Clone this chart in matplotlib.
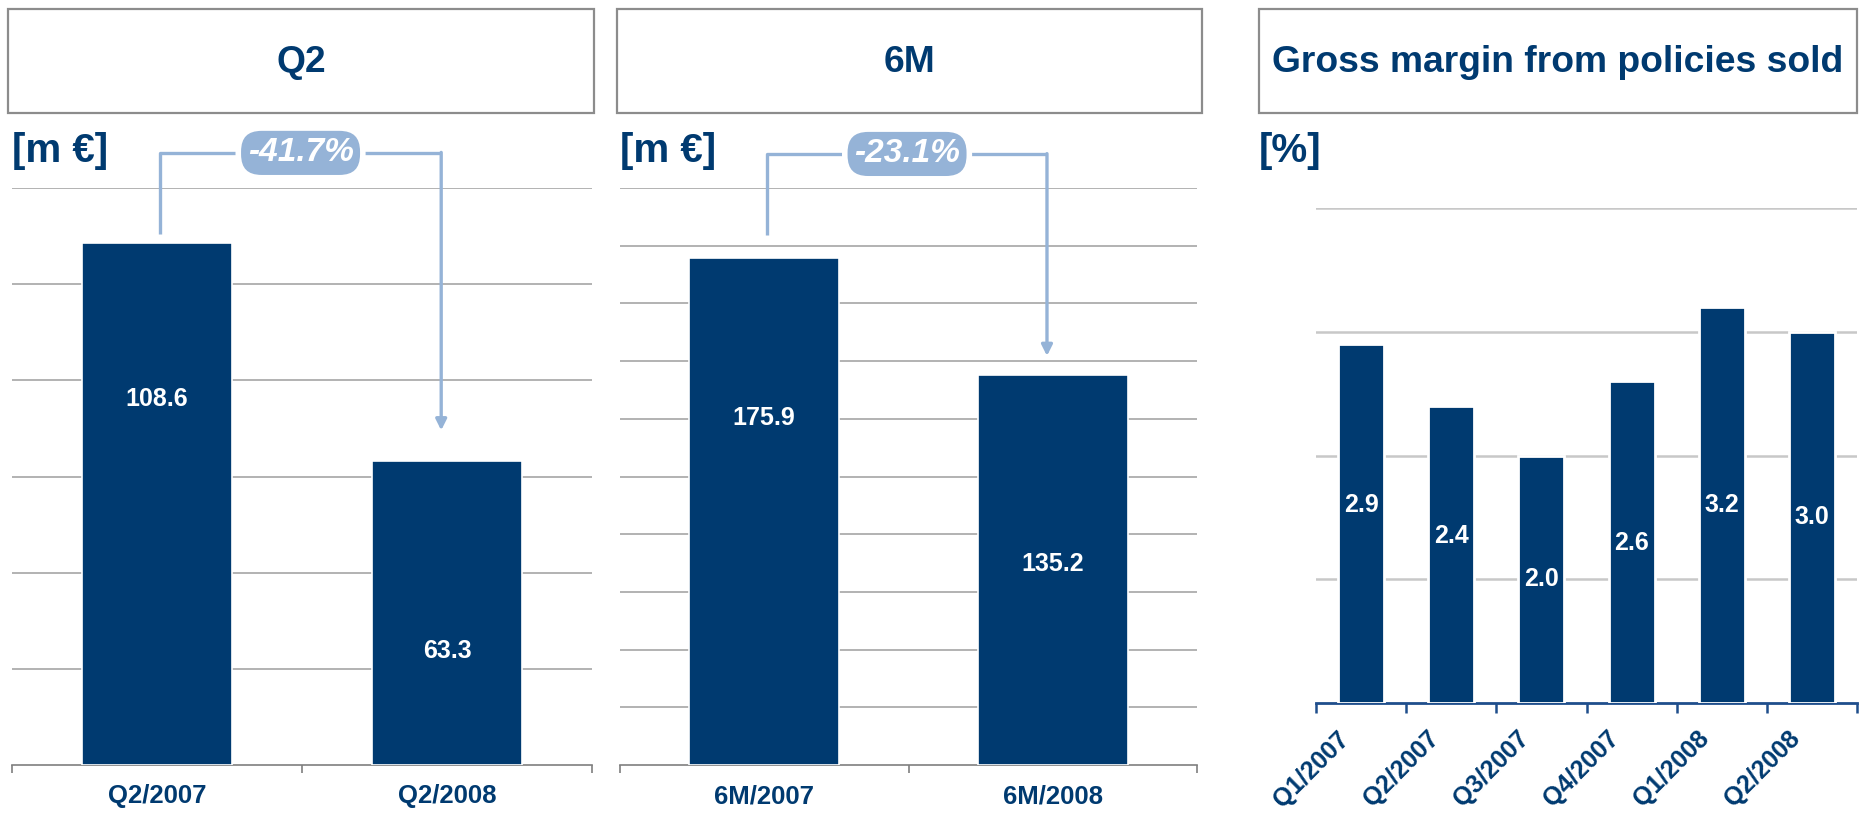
import numpy as np
import matplotlib.pyplot as plt
from matplotlib.patches import Rectangle

plt.rcParams['font.family'] = ['Liberation Sans', 'DejaVu Sans']

NAVY = '#003A70'
LIGHT = '#95B3D7'
GRID = '#A6A6A6'

# Q2 commission income
q2_cats = ['Q2/2007', 'Q2/2008']
q2_vals = [108.6, 63.3]
q2_change = '-41.7%'

# first half year
h1_cats = ['6M/2007', '6M/2008']
h1_vals = [175.9, 135.2]
h1_change = '-23.1%'

# gross margin per quarter
gm_cats = ['Q1/2007', 'Q2/2007', 'Q3/2007', 'Q4/2007', 'Q1/2008', 'Q2/2008']
gm_vals = [2.9, 2.4, 2.0, 2.6, 3.2, 3.0]

W, H = 1863, 815
fig = plt.figure(figsize=(W / 100, H / 100), dpi=100)


def px_axes(x0, y0, x1, y1):
    return fig.add_axes([x0 / W, 1 - y1 / H, (x1 - x0) / W, (y1 - y0) / H])


def title_box(x0, x1, text):
    fig.patches.append(Rectangle((x0 / W, 1 - 113 / H), (x1 - x0) / W, 104 / H,
                                 transform=fig.transFigure, fill=False,
                                 edgecolor='#8C8C8C', linewidth=1.6))
    fig.text((x0 + x1) / 2 / W, 1 - 62 / H, text, ha='center', va='center',
             fontsize=26.8, fontweight='bold', color=NAVY)


def unit_label(x, text):
    fig.text(x / W, 1 - 151 / H, text, ha='left', va='center',
             fontsize=29, fontweight='bold', color=NAVY)


def two_bar_panel(rect, cats, vals, ymax, step, text_y, change, top_y, start_y, tip_y):
    ax = px_axes(*rect)
    x = np.arange(len(cats))
    ax.bar(x, vals, width=0.52, color=NAVY, edgecolor='white', linewidth=1.2, zorder=3)
    ax.set_xlim(-0.5, len(cats) - 0.5)
    ax.set_ylim(0, ymax)
    ax.set_yticks(np.arange(step, ymax + step / 2, step))
    ax.yaxis.grid(True, color=GRID, linewidth=1.2)
    ax.set_axisbelow(True)
    for s in ['top', 'left', 'right']:
        ax.spines[s].set_visible(False)
    ax.spines['bottom'].set_color('#7F7F7F')
    ax.spines['bottom'].set_linewidth(1.2)
    ax.tick_params(axis='y', length=0, labelleft=False)
    ax.set_xticks(np.arange(-0.5, len(cats), 1.0))
    ax.set_xticklabels([])
    ax.tick_params(axis='x', length=6, width=1.2, color='#7F7F7F')
    for i, c in enumerate(cats):
        ax.annotate(c, xy=(i, 0), xytext=(0, -27.4), textcoords='offset points',
                    ha='center', va='baseline', fontsize=18.5, fontweight='bold', color=NAVY)
        ax.text(i, text_y[i], f'{vals[i]:.1f}', ha='center', va='center',
                fontsize=18, fontweight='bold', color='white', zorder=4)
    # change bracket from first bar to second bar
    x0, x1 = 0.01, 0.98
    ax.plot([x0, x0, x1], [start_y, top_y, top_y], color=LIGHT, lw=2.4,
            clip_on=False, zorder=4, solid_capstyle='butt')
    ax.annotate('', xy=(x1, tip_y), xytext=(x1, top_y + 0.1),
                arrowprops=dict(arrowstyle='-|>', color=LIGHT, lw=2.4, mutation_scale=16,
                                shrinkA=0, shrinkB=0),
                annotation_clip=False, zorder=4)
    ax.text((x0 + x1) / 2, top_y, change, ha='center', va='center', fontsize=24,
            fontweight='bold', style='italic', color='white', zorder=6, clip_on=False,
            bbox=dict(boxstyle='round,pad=0.28,rounding_size=0.7', fc=LIGHT,
                      ec='white', lw=4))
    return ax


title_box(8, 594, 'Q2')
title_box(617, 1202, '6M')
title_box(1259, 1857, 'Gross margin from policies sold')
unit_label(12, '[m €]')
unit_label(620, '[m €]')
unit_label(1259, '[%]')

two_bar_panel((12, 188, 592, 765), q2_cats, q2_vals, 120, 20, [76.2, 23.8],
              q2_change, 127.3, 110.4, 69.6)
two_bar_panel((620, 188, 1197, 765), h1_cats, h1_vals, 200, 20, [120.3, 69.7],
              h1_change, 211.8, 183.7, 141.8)

# gross margin panel
ax = px_axes(1316, 208, 1857, 703)
x = np.arange(len(gm_cats))
ax.bar(x, gm_vals, width=0.51, color=NAVY, edgecolor='white', linewidth=2, zorder=3)
ax.set_xlim(-0.5, len(gm_cats) - 0.5)
ax.set_ylim(0, 4)
ax.set_yticks([1, 2, 3, 4])
ax.yaxis.grid(True, color='#C8C8C8', linewidth=1.8)
ax.set_axisbelow(True)
for s in ['top', 'left', 'right']:
    ax.spines[s].set_visible(False)
ax.spines['bottom'].set_color('#1F4E8C')
ax.spines['bottom'].set_linewidth(2)
ax.tick_params(axis='y', length=0, labelleft=False)
ax.set_xticks(np.arange(-0.5, len(gm_cats), 1.0))
ax.set_xticklabels([])
ax.tick_params(axis='x', length=7, width=1.8, color='#1F4E8C')
gm_text_y = [1.60, 1.35, 1.0, 1.29, 1.6, 1.5]
for i, c in enumerate(gm_cats):
    ax.annotate(c, xy=(i, 0), xytext=(-8, -26.7), textcoords='offset points',
                ha='right', va='baseline', rotation=45, rotation_mode='anchor',
                fontsize=18, fontweight='bold', color=NAVY)
    ax.text(i, gm_text_y[i], f'{gm_vals[i]:.1f}', ha='center', va='center',
            fontsize=18, fontweight='bold', color='white', zorder=4)

fig.savefig('out.png', dpi=100)
